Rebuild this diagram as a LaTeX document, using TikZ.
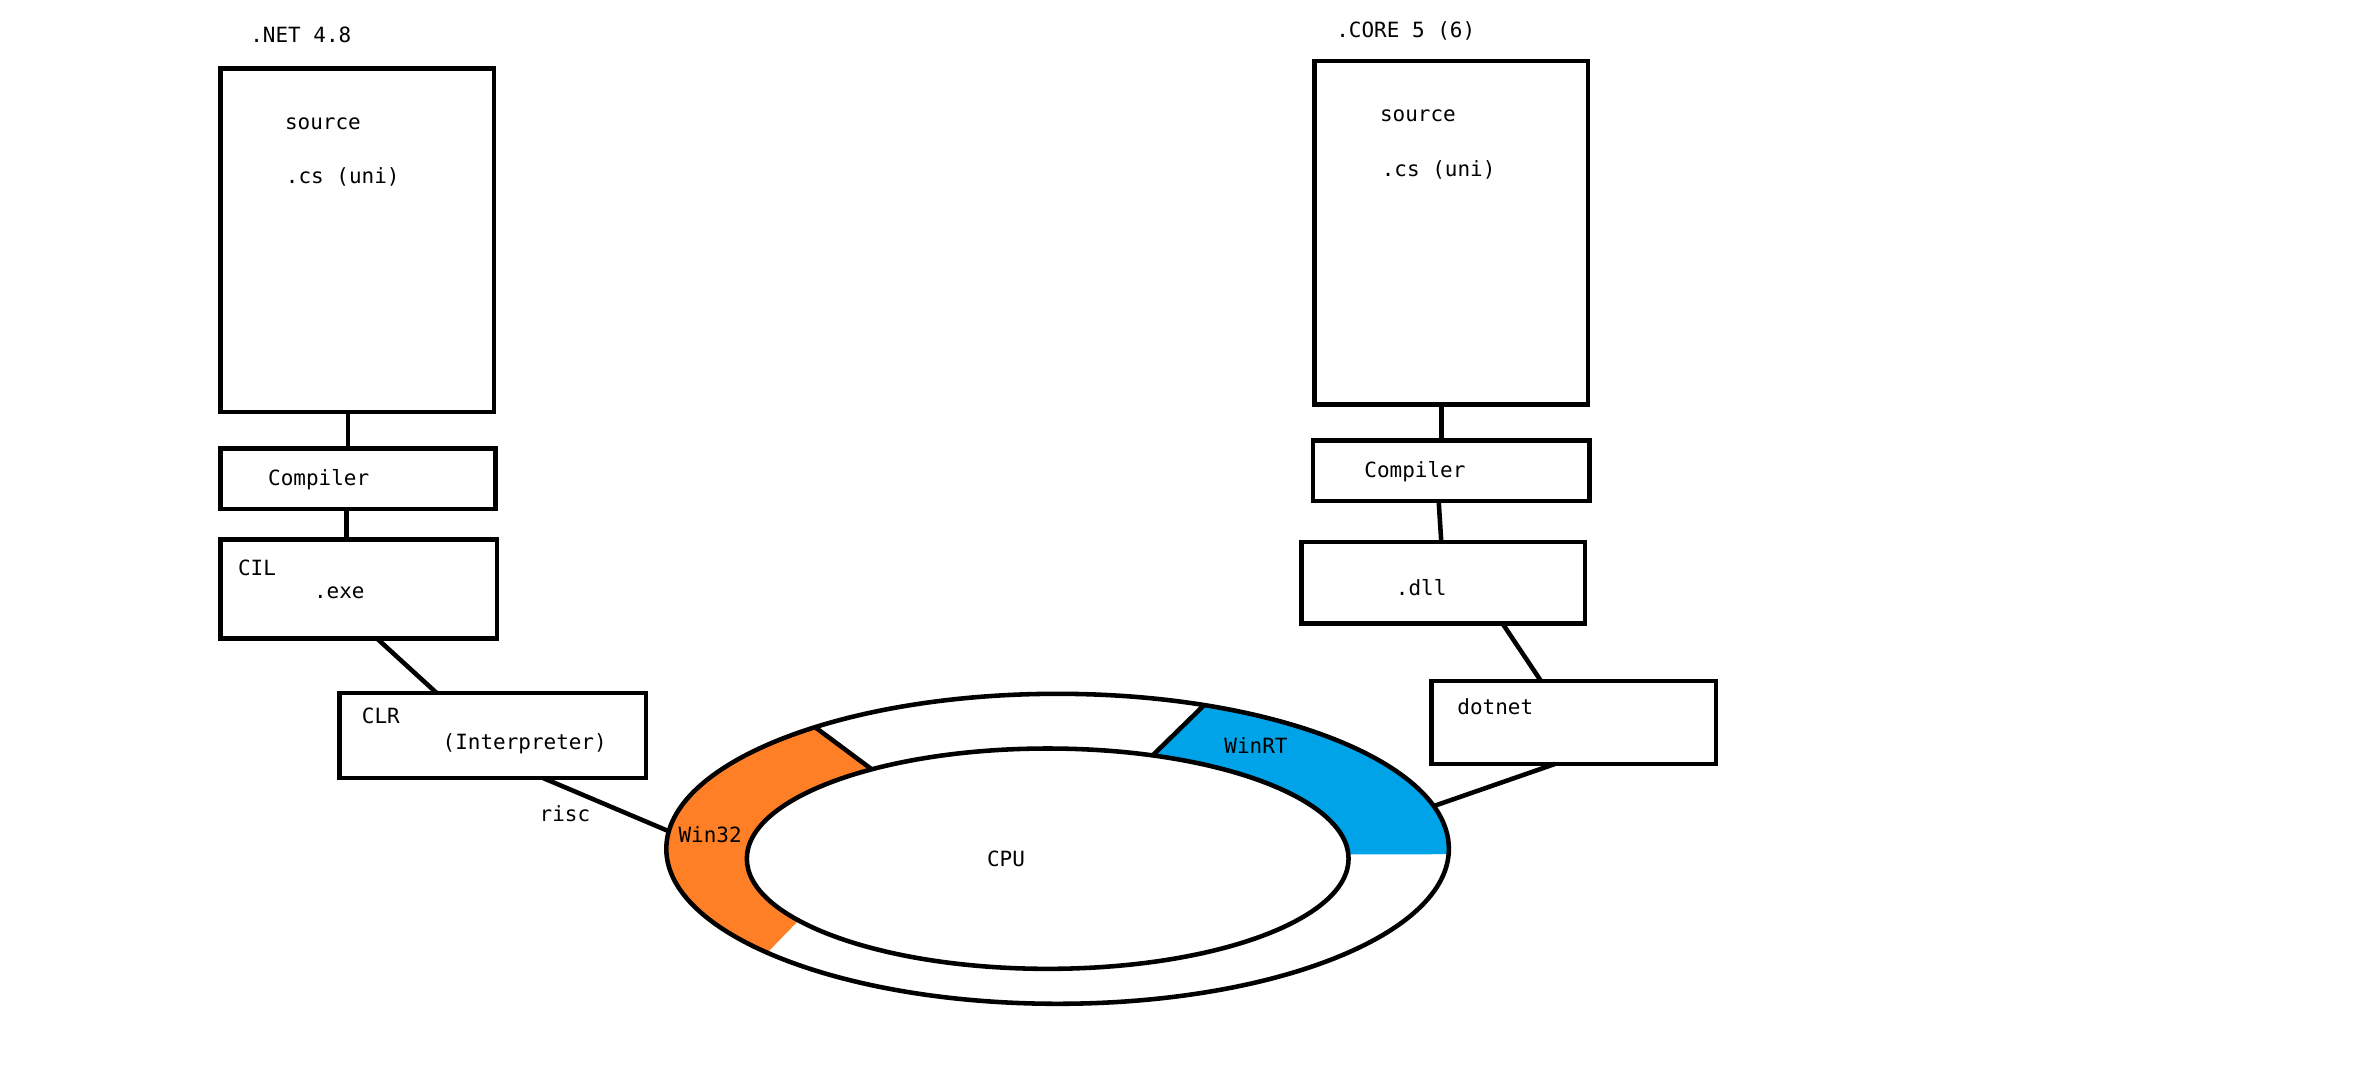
\documentclass[tikz,border=0pt]{standalone}
\usepackage{fontspec}
\setmonofont{DejaVu Sans Mono}
\definecolor{paintorange}{HTML}{FF7F27}
\definecolor{paintblue}{HTML}{00A2E8}
\begin{document}
\begin{tikzpicture}[x=1pt,y=1pt,
  box/.style={draw=black, line width=3pt, inner sep=0pt, outer sep=0pt, anchor=south west},
  conn/.style={draw=black, line width=3pt},
  lbl/.style={font=\ttfamily\fontsize{13.8}{16}\selectfont, anchor=west, inner sep=0pt}]
\useasboundingbox[fill=white] (0,0) rectangle (1563,710.1);

% ---- left column (.NET 4.8)
\node[lbl] (net48) at (164.5,687.1) {.NET 4.8};
\node[box, minimum width=180, minimum height=226] (src1) at (145,439) {};
\node[lbl] (src1a) at (187.4,628.6) {source};
\node[lbl] (src1b) at (188,593.4) {.cs (uni)};
\node[box, minimum width=181, minimum height=40] (comp1) at (145,375) {};
\node[lbl] (comp1t) at (176.3,394.2) {Compiler};
\node[box, minimum width=182, minimum height=65] (cil) at (145,290) {};
\node[lbl] (cilt) at (156.5,336.3) {CIL};
\node[lbl] (exet) at (206.5,319.8) {.exe};
\node[box, minimum width=201.8, minimum height=56] (clr) at (223.3,198) {};
\node[lbl] (clrt) at (238,238.8) {CLR};
\node[lbl] (interp) at (291.1,220.8) {(Interpreter)};

% ---- right column (.CORE 5 (6))
\node[lbl] (core5) at (879.2,689.9) {.CORE 5 (6)};
\node[box, minimum width=180, minimum height=226] (src2) at (865,444) {};
\node[lbl] (src2a) at (908,634.1) {source};
\node[lbl] (src2b) at (909.2,598.5) {.cs (uni)};
\node[box, minimum width=182, minimum height=40] (comp2) at (864.2,380.3) {};
\node[lbl] (comp2t) at (897.7,399.4) {Compiler};
\node[box, minimum width=186.5, minimum height=53.7] (dll) at (856.6,299.7) {};
\node[lbl] (dllt) at (918.5,323.2) {.dll};
\node[box, minimum width=187, minimum height=54.4] (dotnet) at (942.2,207.4) {};
\node[lbl] (dotnett) at (958.9,245) {dotnet};

% ---- ring (CPU)
\coordinate (oc) at (696,151.5);
\coordinate (ic) at (689.5,145);
\path (oc) ++(128.3:257.5 and 102) coordinate (w32a);
\path (ic) ++(125.8:198 and 72.5) coordinate (w32b);
\path (ic) ++(214.1:198 and 72.5) coordinate (w32d);
\path (oc) ++(68:257.5 and 102) coordinate (rta);
\path (ic) ++(69.6:198 and 72.5) coordinate (rtb);
\path (ic) ++(2.2:198 and 72.5) coordinate (rtd);
\path (oc) ++(173.5:257.5 and 102) coordinate (w32in);
\path (oc) ++(16:257.5 and 102) coordinate (rtin);

\fill[paintorange] (w32a) arc[start angle=128.3, end angle=222.1, x radius=257.5, y radius=102]
  -- (w32d) arc[start angle=214.1, end angle=125.8, x radius=198, y radius=72.5] -- cycle;
\fill[paintblue] (rta) arc[start angle=68, end angle=-2, x radius=257.5, y radius=102]
  -- (rtd) arc[start angle=2.2, end angle=69.6, x radius=198, y radius=72.5] -- cycle;
\draw[conn] (oc) ellipse[x radius=257.5, y radius=102];
\draw[conn] (ic) ellipse[x radius=198, y radius=72.5];
\draw[conn] (w32a) -- (w32b);
\draw[conn] (rta) -- (rtb);

\node[lbl] (win32) at (446.4,160.7) {Win32};
\node[lbl] (cpu) at (649.4,145) {CPU};
\node[lbl] (winrt) at (805.6,219.5) {WinRT};

% ---- connectors
\draw[conn] ([xshift=-6pt]src1.south) -- ([xshift=-6.5pt]comp1.north);
\draw[conn] ([xshift=-7.5pt]comp1.south) -- ([xshift=-8pt]cil.north);
\draw[conn] ([xshift=12pt]cil.south) -- ([xshift=-36.8pt]clr.north);
\draw[conn] ([xshift=33.4pt]clr.south) -- (w32in);
\node[lbl] (risc) at (355,174.7) {risc};

\draw[conn] ([xshift=-6.3pt]src2.south) -- ([xshift=-6.5pt]comp2.north);
\draw[conn] ([xshift=-8.4pt]comp2.south) -- ([xshift=-1.35pt]dll.north);
\draw[conn] ([xshift=39pt]dll.south) -- ([xshift=-21.5pt]dotnet.north);
\draw[conn] ([xshift=-12.2pt]dotnet.south) -- (rtin);
\end{tikzpicture}
\end{document}
